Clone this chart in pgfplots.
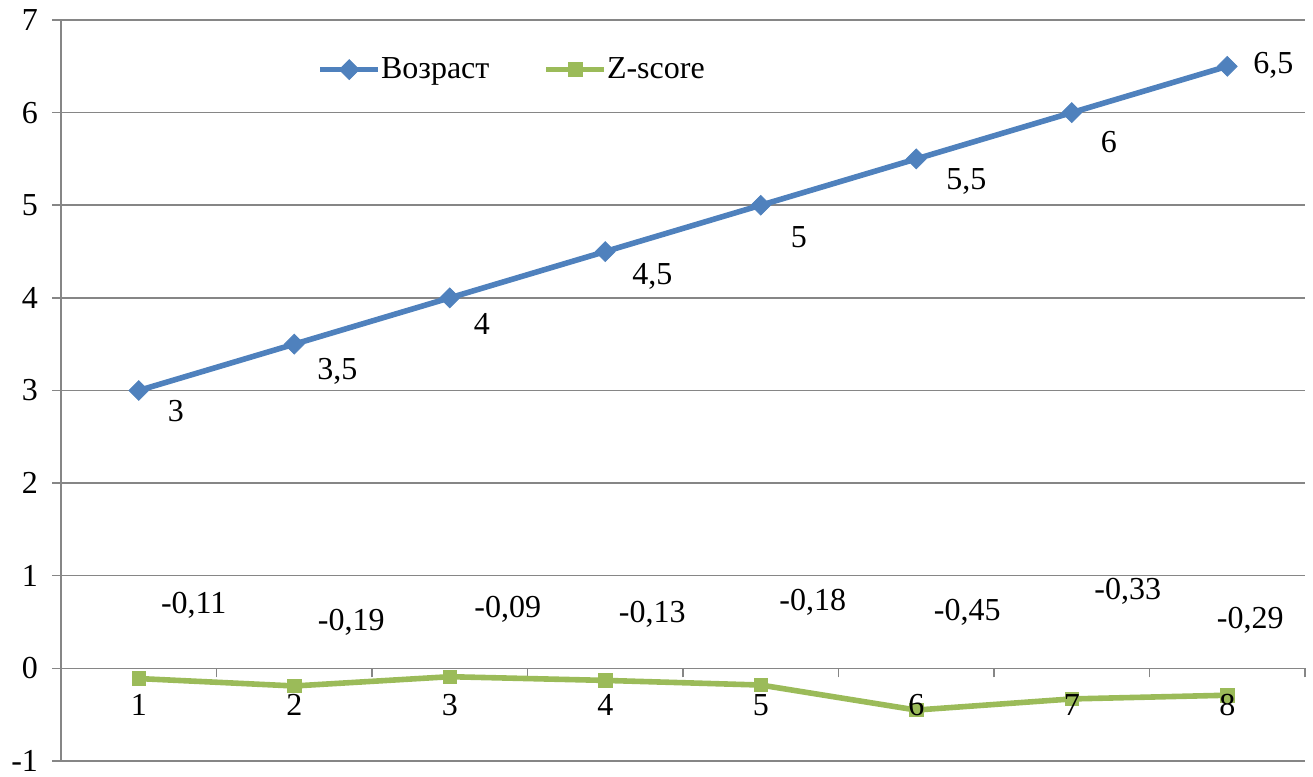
\documentclass[border=0pt]{standalone}
\usepackage{fontspec}
\setmainfont{Liberation Serif}
\usepackage{pgfplots}
\usepackage{pgfplotstable}
\pgfplotsset{compat=1.18}

\definecolor{gridgray}{RGB}{134,134,134}
\definecolor{ageblue}{RGB}{79,129,189}
\definecolor{zgreen}{RGB}{155,187,89}

% x, value, label offset (pt)
\pgfplotstableread{
x y dx dy
1 3 18.5 -10.5
2 3.5 21.5 -13.5
3 4 16 -13
4 4.5 23.5 -12.5
5 5 19 -16
6 5.5 25 -11.5
7 6 18.5 -14.5
8 6.5 23 0.5
}\agetable

\pgfplotstableread{
x y dx dy
1 -0.11 27.5 36.5
2 -0.19 28.5 32
3 -0.09 29 33.5
4 -0.13 23.5 33
5 -0.18 26 41.5
6 -0.45 25.5 49
7 -0.33 28 54
8 -0.29 11.5 37.5
}\ztable

\newcommand\chartfont{\fontsize{16}{19}\selectfont}

\pgfplotsset{
  valuelabels/.style={
    nodes near coords={\pgfmathprintnumber[fixed, precision=2]{\pgfplotspointmeta}},
    point meta=y,
    visualization depends on={\thisrow{dx} \as \dx},
    visualization depends on={\thisrow{dy} \as \dy},
    every node near coord/.append style={anchor=center, text=black,
      font=\chartfont, xshift=\dx pt, yshift=\dy pt},
  },
  agestyle/.style={ageblue, line width=2.8pt, mark=square*, mark size=3.5pt,
    mark options={rotate=45, solid, line width=0.4pt}},
  zstyle/.style={zgreen, line width=2.8pt, mark=square*, mark size=3.4pt,
    mark options={solid, line width=0.4pt}},
}

\begin{document}
\begin{tikzpicture}[font=\chartfont]
\begin{axis}[
  scale only axis,
  width=622pt, height=370.5pt,
  xmin=0.5, xmax=8.5, ymin=-1, ymax=7,
  clip=false,
  axis x line*=middle, axis y line*=left,
  axis line style={gridgray, line width=0.75pt},
  ytick={-1,0,...,7},
  xtick={0.5,1.5,...,8.5}, xticklabels={},
  ymajorgrids,
  grid style={gridgray, line width=0.75pt},
  tick align=outside, major tick length=4.5pt,
  tick style={gridgray, line width=0.75pt},
  tick label style={font=\chartfont, text=black},
  yticklabel style={xshift=-3.5pt, inner ysep=0pt},
  /pgf/number format/use comma,
  /pgf/number format/assume math mode=true,
  legend style={at={(0.201,0.933)}, anchor=west, draw=none, fill=none,
    font=\chartfont, legend columns=2,
    nodes={inner xsep=0pt},
    /tikz/every even column/.append style={column sep=27pt}},
  legend image code/.code={%
    \draw[mark repeat=2, mark phase=2, #1]
      plot coordinates {(0pt,0pt) (14.5pt,0pt) (29pt,0pt)};},
]
\addlegendimage{agestyle}
\addlegendentry{Возраст}
\addlegendimage{zstyle}
\addlegendentry{Z-score}

\addplot[agestyle, valuelabels, forget plot] table[x=x, y=y] {\agetable};
\addplot[zstyle, valuelabels, forget plot] table[x=x, y=y] {\ztable};

% category numbers under the zero line, set above the series
\addplot[draw=none, forget plot, point meta=x,
  nodes near coords={\pgfmathprintnumber{\pgfplotspointmeta}},
  every node near coord/.append style={anchor=center, text=black,
    font=\chartfont, yshift=-18.5pt}]
  coordinates {(1,0) (2,0) (3,0) (4,0) (5,0) (6,0) (7,0) (8,0)};

\coordinate (SW) at (rel axis cs:0,0);
\coordinate (NE) at (rel axis cs:1,1);
\end{axis}
\pgfresetboundingbox
\path ([shift={(-30.5pt,-8pt)}]SW) rectangle ([shift={(4pt,10pt)}]NE);
\end{tikzpicture}
\end{document}
